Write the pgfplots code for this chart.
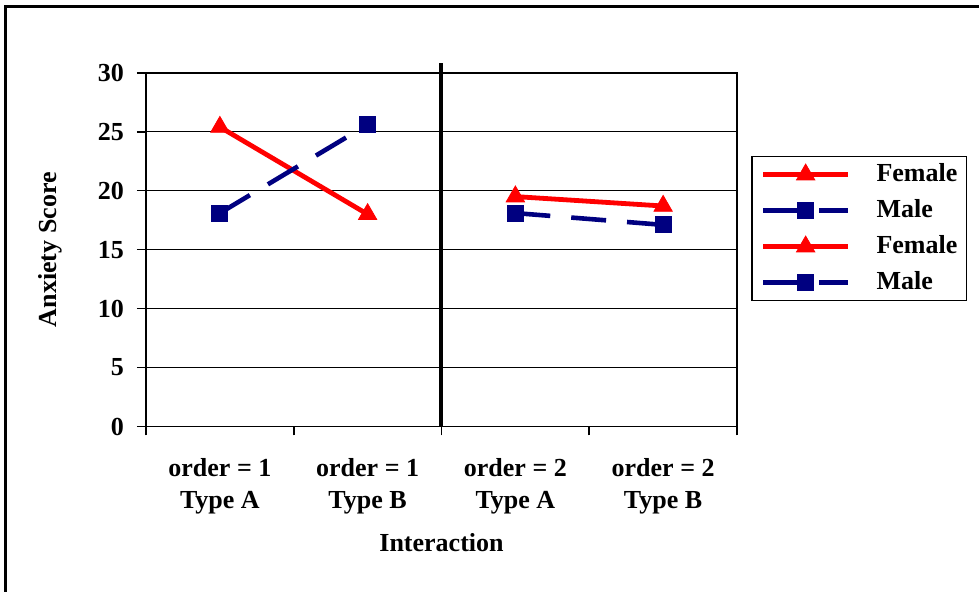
\documentclass[border=0pt]{standalone}
\usepackage{fontspec}
\setmainfont{Liberation Serif}
\usepackage{pgfplots}
\pgfplotsset{compat=1.18}

\definecolor{fem}{RGB}{255,0,0}
\definecolor{mal}{RGB}{0,0,128}
\newcommand{\lbl}{\bfseries\fontsize{13}{16}\selectfont}

\begin{document}
\begin{tikzpicture}
% page = 979 x 592 px at 0.5pt per px
\useasboundingbox (0,0) rectangle (489.5pt,296pt);
\draw[line width=1.5pt] (2.65pt,-5pt) -- (2.65pt,292.5pt) -- (495pt,292.5pt);
\begin{axis}[
    at={(73pt,82.75pt)}, anchor=south west,
    scale only axis, width=295.5pt, height=176.85pt,
    xmin=0, xmax=4, ymin=0, ymax=30,
    clip=false,
    axis line style={black, line width=0.8pt},
    tick pos=left, tick align=outside,
    major tick length=4.5pt,
    tick style={black, line width=0.8pt},
    xtick={0,1,2,3,4}, xticklabels={},
    extra x ticks={0.5,1.5,2.5,3.5},
    extra x tick labels={{order = 1\\Type A},{order = 1\\Type B},{order = 2\\Type A},{order = 2\\Type B}},
    extra x tick style={tick style={draw=none},
        xticklabel style={align=center, yshift=-8pt}},
    ytick={0,5,...,30},
    yticklabel style={xshift=-3pt},
    ymajorgrids, grid style={black, line width=0.6pt},
    /pgf/number format/assume math mode=true,
    tick label style={font=\lbl},
    label style={font=\lbl},
    xlabel={Interaction},
    xlabel style={at={(rel axis cs:0.5,-0.3287)}, anchor=center},
    ylabel={Anxiety Score},
    ylabel style={at={(rel axis cs:-0.1624,0.5)}, anchor=center},
    legend style={at={(rel axis cs:1.0237,0.765)}, anchor=north west,
        draw=black, line width=0.75pt, font=\lbl,
        inner xsep=4.5pt, inner ysep=2.5pt, row sep=5pt,
        nodes={inner sep=0pt, text height=10pt, text depth=3pt},
        /tikz/every odd column/.append style={column sep=13pt}},
    legend cell align=left,
    legend image code/.code={
        \draw[mark repeat=2, mark phase=2] plot coordinates {(0pt,0pt) (21.25pt,0pt) (42.5pt,0pt)};},
]
\addplot[fem, line width=2.4pt, mark=triangle*, mark size=5.3pt,
    mark options={solid, line width=0.4pt}]
    coordinates {(0.5,25.4) (1.5,18.0)};
\addlegendentry{Female}
\addplot[mal, line width=2.3pt, dash pattern=on 17.5pt off 10.5pt, mark=square*, mark size=4pt,
    mark options={solid, line width=0.4pt}]
    coordinates {(0.5,18.1) (1.5,25.6)};
\addlegendentry{Male}
\addplot[fem, line width=2.4pt, mark=triangle*, mark size=5.3pt,
    mark options={solid, line width=0.4pt}]
    coordinates {(2.5,19.5) (3.5,18.7)};
\addlegendentry{Female}
\addplot[mal, line width=2.3pt, dash pattern=on 17.5pt off 10.5pt, mark=square*, mark size=4pt,
    mark options={solid, line width=0.4pt}]
    coordinates {(2.5,18.1) (3.5,17.1)};
\addlegendentry{Male}
% divider between the two orders
\addplot[black, line width=2pt, forget plot] coordinates {(2,0) (2,30.86)};
\end{axis}
\end{tikzpicture}
\end{document}
